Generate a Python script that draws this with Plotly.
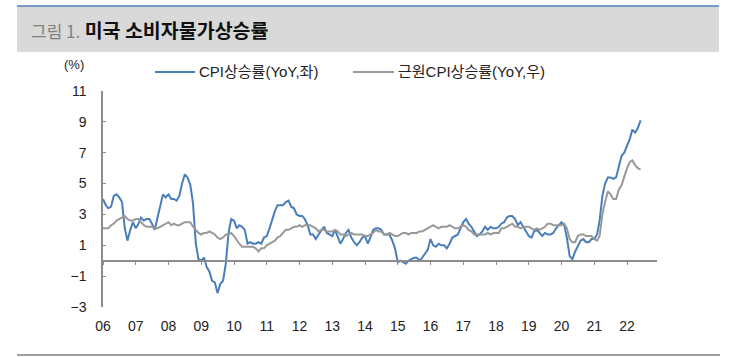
import plotly.graph_objects as go
import pandas as pd

# Monthly data, 2006-01 .. 2022-06
cpi_yoy = [
    4.0, 3.6, 3.4, 3.5, 4.2, 4.3, 4.1, 3.8, 2.1, 1.3, 2.0, 2.5,   # 2006
    2.1, 2.4, 2.8, 2.6, 2.7, 2.7, 2.4, 2.0, 2.8, 3.5, 4.3, 4.1,   # 2007
    4.3, 4.0, 4.0, 3.9, 4.2, 5.0, 5.6, 5.4, 4.9, 3.7, 1.1, 0.1,   # 2008
    0.0, 0.2, -0.4, -0.7, -1.3, -1.4, -2.1, -1.5, -1.3, -0.2, 1.8, 2.7,  # 2009
    2.6, 2.1, 2.3, 2.2, 2.0, 1.1, 1.2, 1.1, 1.1, 1.2, 1.1, 1.5,   # 2010
    1.6, 2.1, 2.7, 3.2, 3.6, 3.6, 3.6, 3.8, 3.9, 3.5, 3.4, 3.0,   # 2011
    2.9, 2.9, 2.7, 2.3, 1.7, 1.7, 1.4, 1.7, 2.0, 2.2, 1.8, 1.7,   # 2012
    1.6, 2.0, 1.5, 1.1, 1.4, 1.8, 2.0, 1.5, 1.2, 1.0, 1.2, 1.5,   # 2013
    1.6, 1.1, 1.5, 2.0, 2.1, 2.1, 2.0, 1.7, 1.7, 1.7, 1.3, 0.8,   # 2014
    -0.1, 0.0, -0.1, -0.2, 0.0, 0.1, 0.2, 0.2, 0.0, 0.2, 0.5, 0.7,  # 2015
    1.4, 1.0, 0.9, 1.1, 1.0, 1.0, 0.8, 1.1, 1.5, 1.6, 1.7, 2.1,   # 2016
    2.5, 2.7, 2.4, 2.2, 1.9, 1.6, 1.7, 1.9, 2.2, 2.0, 2.2, 2.1,   # 2017
    2.1, 2.2, 2.4, 2.5, 2.8, 2.9, 2.9, 2.7, 2.3, 2.5, 2.2, 1.9,   # 2018
    1.6, 1.5, 1.9, 2.0, 1.8, 1.6, 1.8, 1.7, 1.7, 1.8, 2.1, 2.3,   # 2019
    2.5, 2.3, 1.5, 0.3, 0.1, 0.6, 1.0, 1.3, 1.4, 1.2, 1.2, 1.4,   # 2020
    1.4, 1.7, 2.6, 4.2, 5.0, 5.4, 5.4, 5.3, 5.4, 6.2, 6.8, 7.0,   # 2021
    7.5, 7.9, 8.5, 8.3, 8.6, 9.1,                                 # 2022
]
core_cpi_yoy = [
    2.1, 2.1, 2.1, 2.3, 2.4, 2.6, 2.7, 2.8, 2.9, 2.7, 2.6, 2.6,   # 2006
    2.7, 2.7, 2.5, 2.3, 2.2, 2.2, 2.2, 2.1, 2.1, 2.2, 2.3, 2.4,   # 2007
    2.5, 2.3, 2.4, 2.3, 2.3, 2.4, 2.5, 2.5, 2.5, 2.2, 2.0, 1.8,   # 2008
    1.7, 1.8, 1.8, 1.9, 1.8, 1.7, 1.5, 1.4, 1.5, 1.7, 1.7, 1.8,   # 2009
    1.6, 1.3, 1.1, 0.9, 0.9, 0.9, 0.9, 0.9, 0.8, 0.6, 0.8, 0.8,   # 2010
    1.0, 1.1, 1.2, 1.3, 1.5, 1.6, 1.8, 2.0, 2.0, 2.1, 2.2, 2.2,   # 2011
    2.3, 2.2, 2.3, 2.3, 2.3, 2.2, 2.1, 1.9, 2.0, 2.0, 1.9, 1.9,   # 2012
    1.9, 2.0, 1.9, 1.7, 1.7, 1.6, 1.7, 1.8, 1.7, 1.7, 1.7, 1.7,   # 2013
    1.6, 1.6, 1.7, 1.8, 2.0, 1.9, 1.9, 1.7, 1.7, 1.8, 1.7, 1.6,   # 2014
    1.6, 1.7, 1.8, 1.8, 1.7, 1.8, 1.8, 1.8, 1.9, 1.9, 2.0, 2.1,   # 2015
    2.2, 2.3, 2.2, 2.1, 2.2, 2.2, 2.2, 2.3, 2.2, 2.1, 2.1, 2.2,   # 2016
    2.3, 2.2, 2.0, 1.9, 1.7, 1.7, 1.7, 1.7, 1.7, 1.8, 1.7, 1.8,   # 2017
    1.8, 1.8, 2.1, 2.1, 2.2, 2.3, 2.4, 2.2, 2.2, 2.1, 2.2, 2.2,   # 2018
    2.2, 2.1, 2.0, 2.1, 2.0, 2.1, 2.2, 2.4, 2.4, 2.3, 2.3, 2.3,   # 2019
    2.3, 2.4, 2.1, 1.4, 1.2, 1.2, 1.6, 1.7, 1.7, 1.6, 1.6, 1.6,   # 2020
    1.4, 1.3, 1.6, 3.0, 3.8, 4.5, 4.3, 4.0, 4.0, 4.6, 4.9, 5.5,   # 2021
    6.0, 6.4, 6.5, 6.2, 6.0, 5.9,                                 # 2022
]
dates = pd.date_range("2006-01-01", periods=len(cpi_yoy), freq="MS")

year_ticks = [f"{y}-01-01" for y in range(2006, 2023)]
year_labels = [f"{y % 100:02d}" for y in range(2006, 2023)]
y_ticks = [11, 9, 7, 5, 3, 1, -1, -3]

names = ["CPI상승률(YoY,좌)", "근원CPI상승률(YoY,우)"]
BLUE = "#4a7ebb"
GRAY = "#999999"
AXIS = "#8c8c8c"

W, H = 732, 357
ML, MR, MT, MB = 103, 75, 91, 50
PW, PH = W - ML - MR, H - MT - MB


def px(x):
    return (x - ML) / PW


def py(y):
    return (H - MB - y) / PH


fig = go.Figure()
fig.add_trace(go.Scatter(x=dates, y=core_cpi_yoy, name=names[1], mode="lines",
                         line=dict(color=GRAY, width=2), yaxis="y2"))
fig.add_trace(go.Scatter(x=dates, y=cpi_yoy, name=names[0], mode="lines",
                         line=dict(color=BLUE, width=2)))

xr = ["2006-01-01", "2022-12-01"]
font_family = "Liberation Sans, Arial, Noto Sans CJK KR, sans-serif"

fig.update_layout(
    width=W, height=H,
    margin=dict(l=ML, r=MR, t=MT, b=MB),
    paper_bgcolor="white", plot_bgcolor="white",
    font=dict(family=font_family, size=14, color="#222222"),
    showlegend=False,
    xaxis=dict(type="date", range=xr, tickvals=year_ticks, ticktext=year_labels,
               showline=False, showgrid=False, zeroline=False, ticks="",
               ticklabelstandoff=9, tickfont=dict(size=14)),
    xaxis2=dict(type="date", range=xr, overlaying="x", anchor="free", position=3 / 14,
                side="bottom", tickvals=year_ticks, showticklabels=False,
                showline=True, linecolor=AXIS, linewidth=1.5,
                ticks="outside", ticklen=4, tickcolor=AXIS, tickwidth=1,
                showgrid=False, zeroline=False),
    yaxis=dict(range=[-3, 11], tickvals=y_ticks, showgrid=False, zeroline=False,
               showline=True, linecolor=AXIS, linewidth=1.5,
               ticks="inside", ticklen=3, tickcolor=AXIS,
               ticklabelstandoff=12, tickfont=dict(size=14)),
    yaxis2=dict(range=[-3, 11], overlaying="y", side="right", visible=False),
)
# empty trace so that xaxis2 (ticks at the zero line) is drawn
fig.add_trace(go.Scatter(x=[dates[0]], y=[None], xaxis="x2", showlegend=False,
                         hoverinfo="skip"))

# title band
fig.add_shape(type="rect", xref="paper", yref="paper",
              x0=px(17), x1=px(719), y0=py(52), y1=py(6),
              fillcolor="#d9d9d9", line=dict(width=0), layer="below")
fig.add_shape(type="line", xref="paper", yref="paper",
              x0=px(17), x1=px(719), y0=py(6), y1=py(6),
              line=dict(color="#4f81bd", width=1.5))
fig.add_shape(type="line", xref="paper", yref="paper",
              x0=px(17), x1=px(720), y0=py(355), y1=py(355),
              line=dict(color="#808080", width=1.5))
fig.add_annotation(xref="paper", yref="paper", x=px(29), y=py(30),
                   xanchor="left", yanchor="middle", showarrow=False,
                   text="<span style='color:#808080;font-size:17px'>그림 1.</span> <b>미국 소비자물가상승률</b>",
                   font=dict(family="Noto Sans CJK KR, sans-serif", size=19.5, color="#111111"))
fig.add_annotation(xref="paper", yref="paper", x=px(74), y=py(64),
                   xanchor="center", yanchor="middle", showarrow=False,
                   text="(%)", font=dict(size=13, color="#222222"))

# legend (drawn manually to match the long line samples)
legend_items = [(names[0], BLUE, 155, 195, 197), (names[1], GRAY, 353, 394, 396)]
for label, color, lx0, lx1, tx in legend_items:
    fig.add_shape(type="line", xref="paper", yref="paper",
                  x0=px(lx0), x1=px(lx1), y0=py(72), y1=py(72),
                  line=dict(color=color, width=2))
    fig.add_annotation(xref="paper", yref="paper", x=px(tx), y=py(72),
                       xanchor="left", yanchor="middle", showarrow=False,
                       text=label, font=dict(size=15, color="#222222"))

fig.write_html("out.html", config={"displayModeBar": False},
               post_script="document.body.style.margin='0';")
